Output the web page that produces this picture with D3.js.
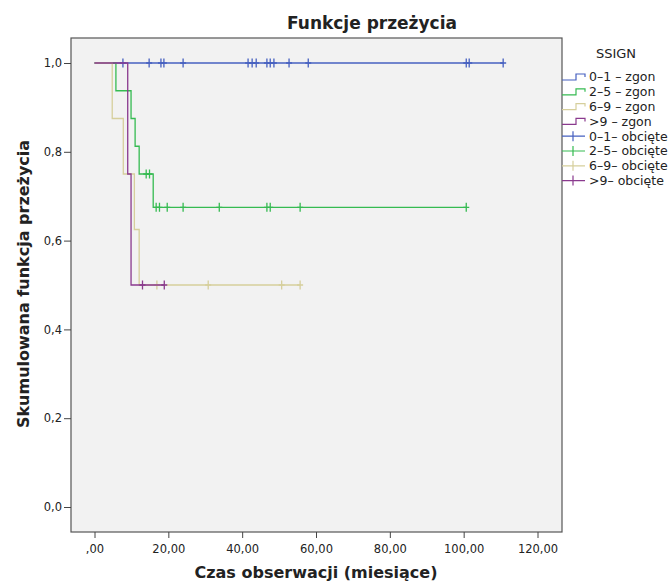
<!DOCTYPE html>
<html>
<head>
<meta charset="utf-8">
<script src="https://cdn.jsdelivr.net/npm/d3@7"></script>
<style>
  body { margin: 0; background: #fff; }
  svg text { font-family: "DejaVu Sans", sans-serif; fill: #222; }
</style>
</head>
<body>
<svg id="km"></svg>
<script>
// Kaplan-Meier estimates per SSIGN group (times in months)
let groupNames = ["0–1", "2–5", "6–9", ">9"];
let groupColors = ["#4660c0", "#36bb52", "#d6cf9c", "#8a3a8e"];

let g01Times = [0];
let g01Surv = [1];
let g01Censored = [7.7, 14.8, 18.0, 18.8, 24.0, 41.6, 42.7, 43.8, 46.7, 47.6, 48.6, 52.7, 57.9, 100.7, 101.5, 110.7];

let g25Times = [0, 5.8, 9.9, 11.0, 12.1, 15.9];
let g25Surv = [1, 0.9375, 0.875, 0.8125, 0.75, 0.675];
let g25Censored = [14.0, 14.9, 16.7, 17.6, 19.7, 24.0, 33.8, 46.7, 47.6, 55.7, 100.7];

let g69Times = [0, 4.8, 7.8, 10.8, 12.1];
let g69Surv = [1, 0.875, 0.75, 0.625, 0.5];
let g69Censored = [16.9, 30.8, 50.7, 55.7];

let g9Times = [0, 9.0, 9.9];
let g9Surv = [1, 0.75, 0.5];
let g9Censored = [13.0, 18.9];

let xTicks = [0, 20, 40, 60, 80, 100, 120];
let yTicks = [0, 0.2, 0.4, 0.6, 0.8, 1.0];

let config = {
  svg: { width: 669, height: 584 },
  frame: { left: 71, top: 38, right: 562, bottom: 532 },
  legend: { x: 562, y: 77, step: 14.8 }
};

let svg = d3.select("svg#km")
  .attr("width", config.svg.width)
  .attr("height", config.svg.height);

let scale = {};
scale.x = d3.scaleLinear().domain([0, 120]).range([94.5, 537.5]);
scale.y = d3.scaleLinear().domain([0, 1]).range([507, 63]);

let f = config.frame;

svg.append("rect")
  .attr("x", f.left)
  .attr("y", f.top)
  .attr("width", f.right - f.left)
  .attr("height", f.bottom - f.top)
  .attr("fill", "#f2f2f2")
  .attr("stroke", "#555")
  .attr("stroke-width", 1.2);

// axes
let axisX = d3.axisBottom(scale.x)
  .tickValues(xTicks)
  .tickSize(6)
  .tickSizeOuter(0)
  .tickFormat(d => d === 0 ? ",00" : d3.format(".2f")(d).replace(".", ","));

let gx = svg.append("g")
  .attr("transform", translate(0, f.bottom))
  .call(axisX);

let axisY = d3.axisLeft(scale.y)
  .tickValues(yTicks)
  .tickSize(7)
  .tickSizeOuter(0)
  .tickFormat(d => d3.format(".1f")(d).replace(".", ","));

let gy = svg.append("g")
  .attr("transform", translate(f.left, 0))
  .call(axisY);

[gx, gy].forEach(g => {
  g.select(".domain").remove();
  g.selectAll(".tick line").attr("stroke", "#444");
  g.selectAll(".tick text")
    .attr("font-size", "11.5px")
    .attr("fill", "#222")
    .style("font-family", "'DejaVu Sans', sans-serif");
});
gx.selectAll(".tick text").attr("dy", "1.05em");
gy.selectAll(".tick text").attr("x", -9);

// curves
let groups = [
  { times: g01Times, surv: g01Surv, censored: g01Censored },
  { times: g25Times, surv: g25Surv, censored: g25Censored },
  { times: g69Times, surv: g69Surv, censored: g69Censored },
  { times: g9Times, surv: g9Surv, censored: g9Censored }
];

function survAt(g, t) {
  let s = 1;
  g.times.forEach((tt, i) => { if (tt <= t) s = g.surv[i]; });
  return s;
}

let line = d3.line()
  .x(d => scale.x(d[0]))
  .y(d => scale.y(d[1]))
  .curve(d3.curveStepAfter);

let curves = svg.append("g").attr("id", "curves");

groups.forEach((g, i) => {
  let end = d3.max(g.times.concat(g.censored));
  let pts = g.times.map((t, j) => [t, g.surv[j]]);
  pts.push([end, g.surv[g.surv.length - 1]]);

  curves.append("path")
    .attr("d", line(pts))
    .attr("fill", "none")
    .attr("stroke", groupColors[i])
    .attr("stroke-width", 1.3);

  curves.selectAll("path.c" + i)
    .data(g.censored)
    .enter()
    .append("path")
    .attr("class", "c" + i)
    .attr("d", t => {
      let x = scale.x(t), y = scale.y(survAt(g, t));
      return "M" + x + "," + (y - 4.5) + "V" + (y + 4.5) + "M" + (x - 3) + "," + y + "H" + (x + 3);
    })
    .attr("stroke", groupColors[i])
    .attr("stroke-width", 1.3);
});

// titles
svg.append("text")
  .text("Funkcje przeżycia")
  .attr("x", 372)
  .attr("y", 29)
  .attr("text-anchor", "middle")
  .attr("font-size", "17px")
  .attr("font-weight", "bold");

svg.append("text")
  .text("Czas obserwacji (miesiące)")
  .attr("x", 316)
  .attr("y", 578)
  .attr("text-anchor", "middle")
  .attr("font-size", "16px")
  .attr("font-weight", "bold");

svg.append("text")
  .text("Skumulowana funkcja przeżycia")
  .attr("transform", "translate(29,284) rotate(-90)")
  .attr("text-anchor", "middle")
  .attr("font-size", "16px")
  .attr("font-weight", "bold");

drawLegend();

function drawLegend() {
  let l = config.legend;
  let legend = svg.append("g").attr("id", "legend");

  legend.append("text")
    .text("SSIGN")
    .attr("x", 616)
    .attr("y", 58)
    .attr("text-anchor", "middle")
    .attr("font-size", "13px");

  groupNames.forEach((name, i) => {
    let y = l.y + i * l.step;
    legend.append("path")
      .attr("d", "M" + l.x + "," + (y + 3) + "H" + (l.x + 14) + "V" + (y - 3) + "H" + (l.x + 23) + "V" + y)
      .attr("fill", "none")
      .attr("stroke", groupColors[i])
      .attr("stroke-width", 1.2);
    legend.append("text")
      .text(name + " – zgon")
      .attr("x", l.x + 27)
      .attr("y", y)
      .attr("dy", "0.35em")
      .attr("font-size", "12.5px");
  });

  groupNames.forEach((name, i) => {
    let y = l.y + (i + 4) * l.step;
    legend.append("path")
      .attr("d", "M" + l.x + "," + y + "H" + (l.x + 23) + "M" + (l.x + 11) + "," + (y - 5) + "V" + (y + 5))
      .attr("stroke", groupColors[i])
      .attr("stroke-width", 1.2);
    legend.append("text")
      .text(name + "– obcięte")
      .attr("x", l.x + 27)
      .attr("y", y)
      .attr("dy", "0.35em")
      .attr("font-size", "12.5px");
  });
}

function translate(x, y) {
  return "translate(" + x + "," + y + ")";
}
</script>
</body>
</html>
